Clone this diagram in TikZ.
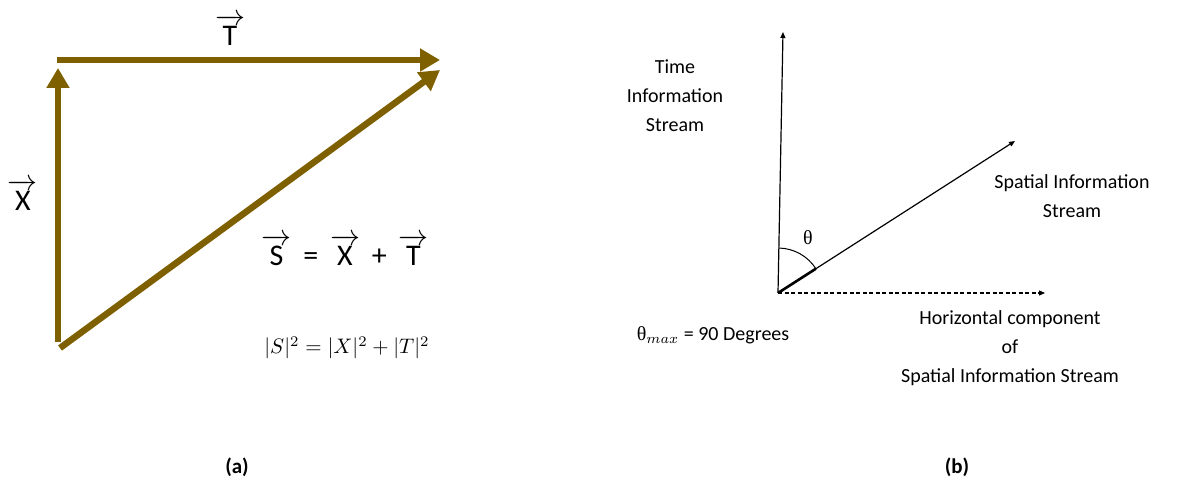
\documentclass[tikz,border=0pt]{standalone}
\usepackage{amsmath}
\usepackage{fontspec}
\setmainfont{Carlito}
\newfontfamily\grk{Liberation Serif}
\usetikzlibrary{arrows.meta,positioning,calc}
\definecolor{vecbrown}{HTML}{7F6000}
\tikzset{
  % tykke vektorer i panel (a)
  vec/.style={draw=vecbrown, line width=6.5pt,
    -{Triangle[width=22pt,length=20pt]}},
  % tynde akser i panel (b)
  axis/.style={draw=black, line width=1.2pt,
    -{Triangle[width=5pt,length=6pt]}},
  proj/.style={axis, dash pattern=on 4pt off 2.5pt},
  % skaleret tekst, saa matematikken vokser med
  big/.style={font=\normalsize, scale=3, transform shape, inner sep=0.3pt},
  mathbig/.style={font=\normalsize, scale=2.1, transform shape, inner sep=0.3pt},
  lbl/.style={font=\fontsize{20}{29}\selectfont, align=center, inner sep=1pt},
  sublbl/.style={font=\normalsize, scale=2, transform shape, inner sep=0.5pt},
  panelcap/.style={font=\fontsize{21}{24}\selectfont\bfseries, inner sep=1pt},
}
\newcommand{\vecl}[1]{$\overrightarrow{\mbox{#1}}$}

\begin{document}
\begin{tikzpicture}[x=1pt,y=1pt]
\useasboundingbox (0,0) rectangle (1189,488);

% ----- panel (a): vektortrekant -----
\coordinate (xs) at (58,146);
\coordinate (xe) at (58,420);
\coordinate (ts) at (57,428);
\coordinate (te) at (440,428);
\coordinate (ss) at (60,140);
\coordinate (se) at (440,418);

\draw[vec] (xs) -- (xe);
\draw[vec] (ts) -- (te);
\draw[vec] (ss) -- (se);

\node[big] (tlbl) at (230,458) {\vecl{T}};
\node[big] (xlbl) at (23,293) {\vecl{X}};
\node[big] (sum) at (345,238) {\vecl{S} \,=\, \vecl{X} \,+\, \vecl{T}};
\node[mathbig] (pyth) at (347,140) {$|S|^2 = |X|^2 + |T|^2$};
\node[panelcap] (capa) at (237,21) {(a)};

% ----- panel (b): informationsstroemme -----
\coordinate (o) at (778,195);
\coordinate (tm) at (783,456);
\coordinate (sp) at (1015,347);
\coordinate (hz) at (1045,195);

\draw[axis] (o) -- (tm);
\draw[axis] (o) -- (sp);
\draw[proj] (o) -- (hz);

% vinkel mellem tid og rum
\draw[line width=2.6pt] (o) -- ($(o)!45pt!(sp)$);
\draw[line width=1pt] ($(o)!45pt!(sp)$) arc[start angle=32.7, end angle=88.9, radius=45];
\node[font=\fontsize{20}{22}\selectfont\grk] (theta) at (808,250) {θ};

\node[lbl] (timelbl) at (675,392) {Time\\Information\\Stream};
\node[lbl] (spatlbl) at (1072,292) {Spatial Information\\Stream};
\node[lbl] (horlbl) at (1010,140) {Horizontal component\\of\\Spatial Information Stream};
\node[sublbl] (tmax) at (713,153) {{\grk θ}$_{max}$ = 90 Degrees};
\node[panelcap] (capb) at (957,21) {(b)};

\end{tikzpicture}
\end{document}
